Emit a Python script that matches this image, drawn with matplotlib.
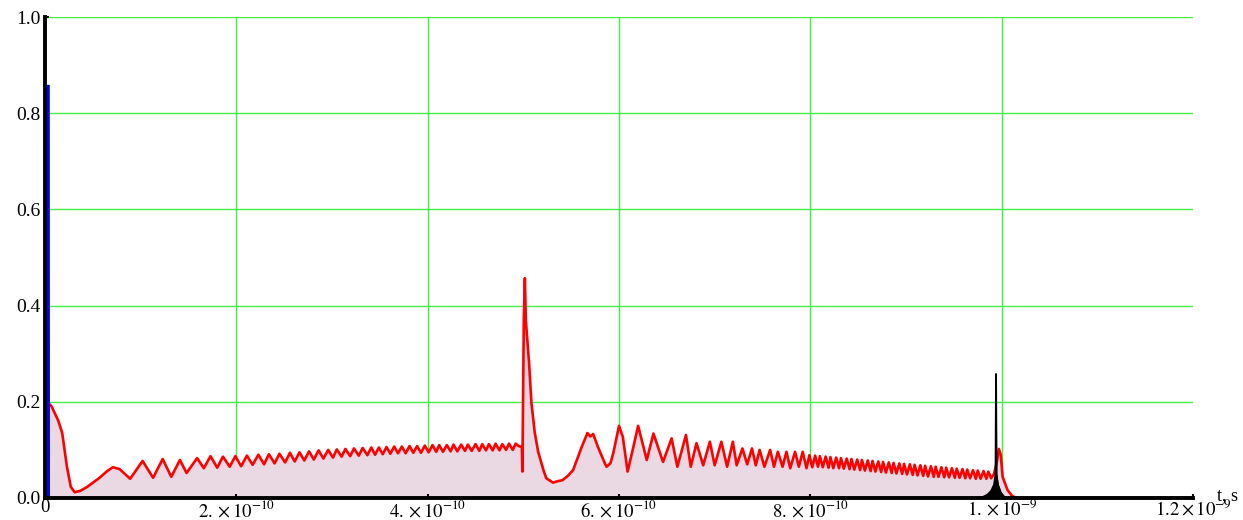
import numpy as np
import matplotlib
matplotlib.use("Agg")
import matplotlib.pyplot as plt

plt.rcParams['font.family'] = ['Liberation Serif', 'DejaVu Serif']
plt.rcParams['mathtext.fontset'] = 'stix'

# time values in units of 1e-10 s
# red signal: initial decay
dec_t = [0.02, 0.04, 0.07, 0.10, 0.14, 0.18, 0.23, 0.27, 0.31, 0.37, 0.44, 0.57,
         0.65, 0.71, 0.78, 0.89, 1.02, 1.13, 1.23, 1.32, 1.41, 1.48]
dec_y = [0.200, 0.197, 0.190, 0.177, 0.160, 0.135, 0.064, 0.023, 0.012, 0.015,
         0.023, 0.042, 0.056, 0.064, 0.060, 0.040, 0.077, 0.042, 0.081, 0.044,
         0.079, 0.052]

# red signal: ripple up to 5e-10
rip_t = [1.59, 1.66, 1.73, 1.80, 1.86, 1.93, 1.99, 2.05, 2.11, 2.17,
         2.23, 2.29, 2.34, 2.40, 2.45, 2.51, 2.56, 2.61, 2.66, 2.71,
         2.76, 2.81, 2.86, 2.91, 2.96, 3.01, 3.05, 3.10, 3.14, 3.19,
         3.23, 3.28, 3.32, 3.37, 3.41, 3.45, 3.49, 3.53, 3.57, 3.61,
         3.65, 3.69, 3.73, 3.77, 3.81, 3.85, 3.89, 3.93, 3.97, 4.01,
         4.05, 4.09, 4.12, 4.16, 4.20, 4.24, 4.27, 4.31, 4.35, 4.39,
         4.42, 4.46, 4.50, 4.54, 4.57, 4.61, 4.64, 4.68, 4.71, 4.75,
         4.78, 4.82, 4.85, 4.89, 4.92]
rip_y = [.083, .062, .087, .063, .086, .065, .087, .066, .088, .069,
         .090, .070, .091, .072, .092, .074, .094, .076, .095, .078,
         .097, .080, .099, .082, .100, .084, .101, .086, .102, .087,
         .103, .088, .104, .089, .105, .090, .105, .091, .106, .092,
         .107, .093, .107, .093, .108, .094, .108, .094, .109, .095,
         .110, .096, .110, .096, .110, .097, .111, .097, .111, .098,
         .111, .098, .112, .098, .112, .099, .112, .099, .113, .099,
         .112, .100, .113, .100, .113]

# red signal: second pulse
pul_t = [4.95, 4.985, 4.99, 5.005, 5.016, 5.026, 5.06, 5.085, 5.12, 5.155,
         5.21, 5.24, 5.31, 5.36, 5.41, 5.47, 5.52, 5.57, 5.61, 5.67, 5.70,
         5.73, 5.78, 5.85, 5.87, 5.91, 5.94, 6.00, 6.04, 6.09, 6.15]
pul_y = [.108, .106, .055, .370, .457, .370, .280, .197, .135, .096,
         .058, .041, .032, .035, .037, .047, .058, .085, .106, .135, .128,
         .133, .106, .073, .065, .072, .093, .150, .127, .055, .106]

# red signal: beating after the pulse
beat_t = [6.20, 6.29, 6.36, 6.46, 6.55, 6.61, 6.70, 6.75, 6.81, 6.88,
          6.95, 7.00, 7.07, 7.13, 7.19, 7.23, 7.29, 7.34, 7.39, 7.43,
          7.47, 7.52, 7.58, 7.62, 7.66, 7.71, 7.75, 7.79, 7.84, 7.88,
          7.92, 7.96, 7.99]
beat_y = [.150, .079, .134, .075, .124, .065, .131, .065, .114, .068,
          .117, .068, .117, .065, .117, .068, .103, .070, .103, .068,
          .100, .065, .100, .065, .096, .065, .096, .062, .096, .065,
          .096, .062, .089]

# red signal: late ripple, peaks and troughs
pk_t = [8.05, 8.10, 8.16, 8.21, 8.27, 8.32, 8.38, 8.43, 8.49, 8.54,
        8.60, 8.65, 8.71, 8.76, 8.82, 8.87, 8.93, 8.98, 9.04, 9.09,
        9.15, 9.20, 9.26, 9.31, 9.37, 9.42, 9.48, 9.53, 9.59, 9.64,
        9.70, 9.75, 9.81, 9.86]
pk_y = [.088, .087, .086, .085, .084, .083, .082, .081, .080, .079,
        .078, .077, .076, .075, .074, .073, .072, .071, .070, .069,
        .068, .067, .066, .065, .064, .063, .062, .061, .060, .059,
        .058, .057, .056, .055]
tr_t = [8.02, 8.08, 8.13, 8.19, 8.24, 8.30, 8.35, 8.41, 8.46, 8.52,
        8.57, 8.63, 8.68, 8.74, 8.79, 8.85, 8.90, 8.96, 9.01, 9.07,
        9.12, 9.18, 9.23, 9.29, 9.34, 9.40, 9.45, 9.51, 9.56, 9.62,
        9.67, 9.73, 9.78, 9.84, 9.89]
tr_y = [.064, .065, .064, .063, .062, .062, .061, .060, .059, .058,
        .057, .056, .055, .054, .053, .052, .051, .050, .049, .048,
        .047, .046, .045, .044, .044, .043, .043, .042, .042, .041,
        .041, .040, .040, .040, .041]

# red signal: end
end_t = [9.92, 9.95, 9.97, 9.99, 10.01, 10.06, 10.11, 10.16, 12.0]
end_y = [.050, .075, .102, .090, .044, .017, .004, 0.0, 0.0]

# black signal (input pulse and output pulse)
blk0_t = [0.0, 0.005, 0.012]
blk0_y = [1.0, 1.0, 0.0]
blk_t = [9.75, 9.80, 9.85, 9.89, 9.92, 9.935, 9.94, 9.945, 9.96, 9.99, 10.02, 10.05]
blk_y = [0.0, .002, .007, .015, .028, .050, .258, .050, .028, .012, .004, 0.0]

# blue signal
blue_t = [0.008, 0.01, 0.045, 0.047]
blue_y = [0.0, 0.86, 0.86, 0.0]

x_ticks = [0, 2e-10, 4e-10, 6e-10, 8e-10, 1e-9, 1.2e-9]
x_labels = ['0', r'$2.\times10^{-10}$', r'$4.\times10^{-10}$', r'$6.\times10^{-10}$',
            r'$8.\times10^{-10}$', r'$1.\times10^{-9}$', r'$1.2\times10^{-9}$']
y_ticks = [0.0, 0.2, 0.4, 0.6, 0.8, 1.0]
y_labels = ['0.0', '0.2', '0.4', '0.6', '0.8', '1.0']

late = np.array(pk_t + tr_t)
late_y = np.array(pk_y + tr_y)
order = np.argsort(late)

red_t = np.concatenate([[0.0], dec_t, rip_t, pul_t, beat_t, late[order], end_t]) * 1e-10
red_y = np.concatenate([[0.2], dec_y, rip_y, pul_y, beat_y, late_y[order], end_y])

fig = plt.figure(figsize=(12.43, 5.2), dpi=100)
ax = fig.add_axes([45 / 1243, 22 / 520, 1148 / 1243, 481 / 520])

for gx in x_ticks[1:6]:
    ax.axvline(gx, color='#44ee44', lw=1, zorder=0)
for gy in y_ticks[1:]:
    ax.axhline(gy, color='#44ee44', lw=1, zorder=0)

ax.fill_between(red_t, red_y, 0, color='#ead8e3', lw=0, zorder=1)
ax.plot(red_t, red_y, color='red', lw=1.9, solid_joinstyle='round', zorder=3)
ax.fill_between(np.array(blk_t) * 1e-10, blk_y, 0, color='black', lw=0.8, zorder=4)
ax.plot(np.array(blk_t) * 1e-10, blk_y, color='black', lw=1.2, zorder=4)
ax.fill_between(np.array(blk0_t) * 1e-10, blk0_y, 0, color='black', lw=0, zorder=4)
ax.fill_between(np.array(blue_t) * 1e-10, blue_y, 0, color='#0000ee', lw=0, zorder=5)

ax.set_xlim(0, 1.2e-9)
ax.set_ylim(0, 1.0)
ax.set_xticks(x_ticks)
ax.set_xticklabels(x_labels)
ax.set_yticks(y_ticks)
ax.set_yticklabels(y_labels)
ax.tick_params(direction='in', length=3, width=1.5, labelsize=14, pad=3)
ax.tick_params(axis='x', labelsize=13.5, pad=1)

for side in ['top', 'right']:
    ax.spines[side].set_visible(False)
for side in ['left', 'bottom']:
    ax.spines[side].set_linewidth(2.8)
    ax.spines[side].set_zorder(6)

ax.text(1.021, 0.006, 't, s', transform=ax.transAxes, ha='left', va='center', fontsize=13)

fig.savefig('out.png', dpi=100)
